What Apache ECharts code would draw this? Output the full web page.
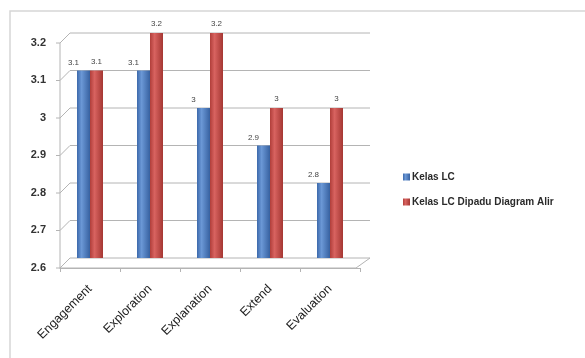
<!DOCTYPE html>
<html>
<head>
<meta charset="utf-8">
<script src="https://cdn.jsdelivr.net/npm/echarts@6/dist/echarts.min.js"></script>
<style>
  html, body { margin: 0; padding: 0; background: #fff; }
  #chart { width: 585px; height: 358px; }
</style>
</head>
<body>
<div id="chart"></div>
<script>
// Categories (the five learning-cycle phases)
const categories = ['Engagement', 'Exploration', 'Explanation', 'Extend', 'Evaluation'];

// Series values
const kelasLC = [3.1, 3.1, 3.0, 2.9, 2.8];
const kelasLCDiagram = [3.1, 3.2, 3.2, 3.0, 3.0];

// Series names
const seriesNames = ['Kelas LC', 'Kelas LC Dipadu Diagram Alir'];

// Value axis ticks
const yTicks = [2.6, 2.7, 2.8, 2.9, 3.0, 3.1, 3.2];

const FONT = '"Liberation Sans", "DejaVu Sans", sans-serif';
const DEPTH = 10;          // fake 3D depth of walls/floor, px
const WALL = '#b4b4b4';

const chart = echarts.init(document.getElementById('chart'));

function cylinder(c0, c1, c2) {
  return new echarts.graphic.LinearGradient(0, 0, 1, 0, [
    { offset: 0, color: c0 },
    { offset: 0.35, color: c1 },
    { offset: 1, color: c2 }
  ]);
}

// Walls and floor drawn in the grid's coordinate system
function renderWalls(params, api) {
  const cs = params.coordSys;
  const v = api.value(1);
  const y = api.coord([0, v])[1];
  const x0 = cs.x, x1 = cs.x + cs.width;
  const children = [{
    type: 'polyline',
    shape: { points: [[x0, y + DEPTH], [x0 + DEPTH, y], [x1 + DEPTH, y]] },
    style: { stroke: WALL, lineWidth: 1, fill: null },
    silent: true
  }, {
    // tick on the front edge
    type: 'line',
    shape: { x1: x0 - 4, y1: y + DEPTH, x2: x0, y2: y + DEPTH },
    style: { stroke: WALL, lineWidth: 1 },
    silent: true
  }];
  if (params.dataIndex === 0) {
    const bottom = cs.y + cs.height;
    children.push({
      type: 'polyline',
      shape: { points: [[x0, cs.y + DEPTH], [x0, bottom + DEPTH], [x1 - 4, bottom + DEPTH], [x1 + DEPTH, bottom]] },
      style: { stroke: WALL, lineWidth: 1, fill: null },
      silent: true
    });
  }
  return { type: 'group', children: children };
}

chart.setOption({
  backgroundColor: '#ffffff',
  animation: false,
  graphic: [{
    type: 'rect',
    shape: { x: 10, y: 11, width: 800, height: 600 },
    style: { fill: null, stroke: '#d6d6d6', lineWidth: 1.5 },
    silent: true,
    z: -10
  }],
  legend: {
    data: seriesNames,
    orient: 'vertical',
    left: 398,
    top: 167,
    itemWidth: 7,
    itemHeight: 7,
    itemGap: 15,
    icon: 'rect',
    textStyle: { fontFamily: FONT, fontSize: 10, fontWeight: 'bold', color: '#2a2a2a', padding: [0, 0, 0, -3] }
  },
  grid: { left: 60, right: 225, top: 33, bottom: 100 },
  xAxis: {
    type: 'category',
    data: categories,
    offset: DEPTH,
    axisLine: { lineStyle: { color: WALL } },
    axisTick: { show: true, length: 4, lineStyle: { color: WALL } },
    axisLabel: {
      rotate: 45,
      margin: 19,
      fontFamily: FONT,
      fontSize: 12.5,
      color: '#222'
    }
  },
  yAxis: {
    type: 'value',
    min: 2.6,
    max: 3.2,
    interval: 0.1,
    axisLine: { show: false },
    axisTick: { show: false },
    splitLine: { show: false },
    axisLabel: {
      margin: 14,
      fontFamily: FONT,
      fontSize: 11,
      fontWeight: 'bold',
      color: '#333',
      verticalAlign: 'top',
      padding: [4, 0, 0, 0],
      formatter: function (v) {
        const t = yTicks.find(function (k) { return Math.abs(k - v) < 1e-6; });
        return t === undefined ? '' : String(t);
      }
    }
  },
  series: [{
    type: 'custom',
    name: 'walls',
    renderItem: renderWalls,
    data: yTicks.map(function (t) { return [0, t]; }),
    encode: { x: 0, y: 1 },
    silent: true,
    z: 1,
    clip: false
  }, {
    type: 'bar',
    name: seriesNames[0],
    data: kelasLC,
    barWidth: 13,
    barGap: '0%',
    itemStyle: { color: cylinder('#3c69ab', '#6b98d6', '#3761a0') },
    label: {
      show: true,
      position: 'top',
      distance: 4,
      offset: [-10, 0],
      fontFamily: FONT,
      fontSize: 8,
      color: '#444'
    },
    z: 3
  }, {
    type: 'bar',
    name: seriesNames[1],
    data: kelasLCDiagram,
    barWidth: 13,
    itemStyle: { color: cylinder('#b03e3a', '#d86360', '#a53733') },
    label: {
      show: true,
      position: 'top',
      distance: 5,
      fontFamily: FONT,
      fontSize: 8,
      color: '#444'
    },
    z: 3
  }],
  color: ['#4a7bbd', '#c0504d']
});
</script>
</body>
</html>
